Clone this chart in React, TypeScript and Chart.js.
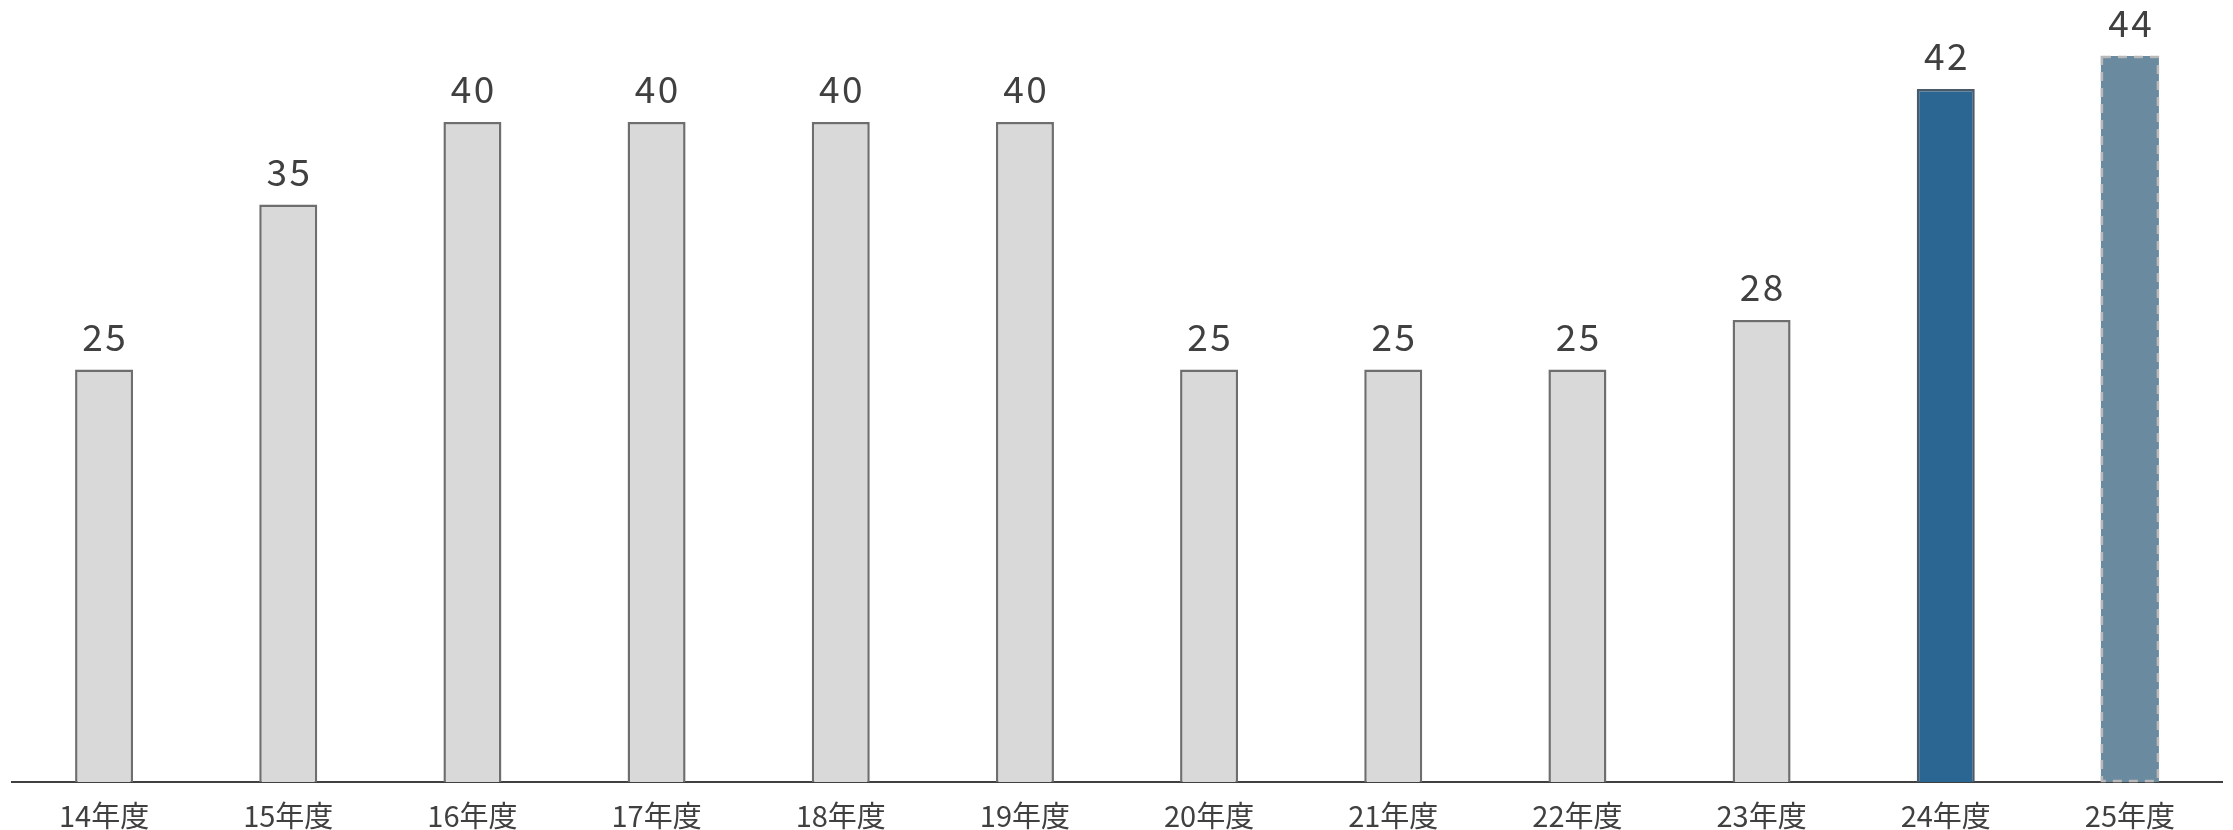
import React, { useEffect, useRef } from "react";
import { Chart, registerables } from "chart.js";

Chart.register(...registerables);

const categories = ["14年度", "15年度", "16年度", "17年度", "18年度", "19年度", "20年度", "21年度", "22年度", "23年度", "24年度", "25年度"];
const values = [25, 35, 40, 40, 40, 40, 25, 25, 25, 28, 42, 44];
const fillColors = ["#d9d9d9", "#d9d9d9", "#d9d9d9", "#d9d9d9", "#d9d9d9", "#d9d9d9", "#d9d9d9", "#d9d9d9", "#d9d9d9", "#d9d9d9", "#2b6592", "#6a8aa0"];
const borderColors = ["#6e6e6e", "#6e6e6e", "#6e6e6e", "#6e6e6e", "#6e6e6e", "#6e6e6e", "#6e6e6e", "#6e6e6e", "#6e6e6e", "#6e6e6e", "#4a5a68", "#b8b8b8"];
// bars whose outline is dashed (forecast year)
const dashedBars = [false, false, false, false, false, false, false, false, false, false, false, true];

const FONT = '"Noto Sans CJK JP", "Noto Sans", sans-serif';
const TEXT = "#404040";

const barDecorations = {
  id: "barDecorations",
  afterDatasetsDraw(chart: any) {
    const ctx = chart.ctx;
    const meta = chart.getDatasetMeta(0);
    ctx.save();
    meta.data.forEach((bar: any, i: number) => {
      const { x, y, base, width } = bar.getProps(["x", "y", "base", "width"], true);
      if (dashedBars[i]) {
        ctx.strokeStyle = borderColors[i];
        ctx.lineWidth = 2.5;
        ctx.setLineDash([9, 7]);
        ctx.strokeRect(x - width / 2 + 1, y + 1, width - 2, base - y - 2);
        ctx.setLineDash([]);
      }
      ctx.fillStyle = TEXT;
      ctx.font = `37px ${FONT}`;
      (ctx as any).letterSpacing = "2.5px";
      ctx.textAlign = "center";
      ctx.textBaseline = "alphabetic";
      ctx.fillText(String(values[i]), x + 1.25, y - 19);
    });
    ctx.restore();
  },
};

export default function App() {
  const ref = useRef<HTMLCanvasElement | null>(null);

  useEffect(() => {
    if (!ref.current) return;
    const chart = new Chart(ref.current, {
      type: "bar",
      data: {
        labels: categories,
        datasets: [
          {
            data: values,
            backgroundColor: fillColors,
            borderColor: borderColors,
            borderWidth: dashedBars.map((d) => (d ? 0 : 2.5)),
            barPercentage: 0.315,
            categoryPercentage: 1,
          },
        ],
      },
      options: {
        animation: false,
        responsive: false,
        maintainAspectRatio: false,
        layout: { padding: { left: 12, right: 11, top: 0, bottom: 0 } },
        plugins: {
          legend: { display: false },
          tooltip: { enabled: false },
        },
        scales: {
          x: {
            grid: { display: false, drawTicks: false },
            border: { display: true, color: "#404040", width: 2 },
            ticks: {
              color: TEXT,
              font: { family: FONT, size: 29 },
              padding: 17,
              maxRotation: 0,
              autoSkip: false,
            },
            afterFit: (scale: any) => {
              scale.height = 48;
            },
          },
          y: {
            display: false,
            min: 0,
            max: 47.4,
          },
        },
      },
      plugins: [barDecorations],
    });
    return () => chart.destroy();
  }, []);

  return (
    <div style={{ position: "fixed", left: 0, top: 0, width: 2233, height: 830, background: "#fff" }}>
      <canvas ref={ref} width={2233} height={830} style={{ display: "block" }} />
    </div>
  );
}
